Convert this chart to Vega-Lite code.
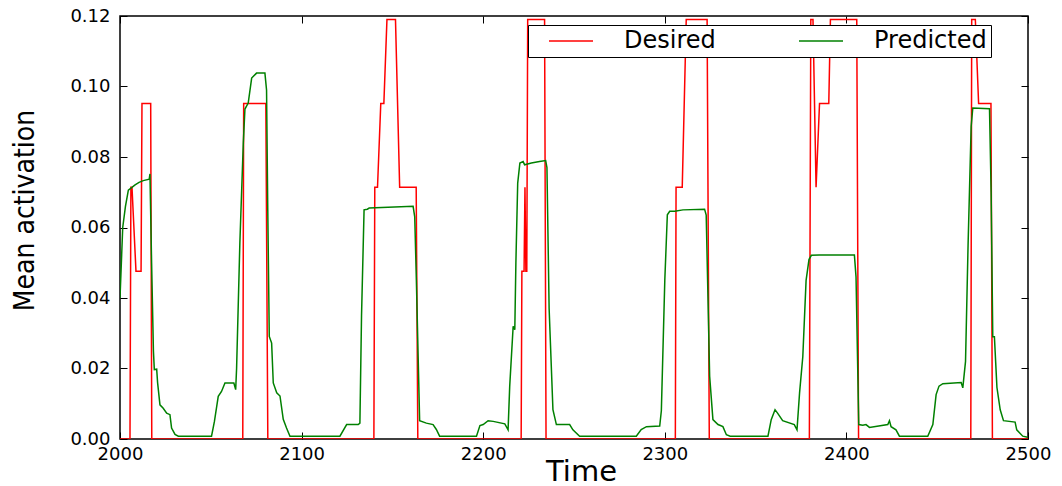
{
  "$schema": "https://vega.github.io/schema/vega-lite/v6.json",
  "width": 908,
  "height": 423,
  "autosize": {"type": "none"},
  "padding": {"left": 120, "top": 16, "right": 34, "bottom": 47},
  "background": "white",
  "config": {
    "view": {"stroke": "black", "strokeWidth": 1.5},
    "axis": {"domain": false, "grid": false, "labelFont": "DejaVu Sans", "labelFontSize": 18, "labelColor": "black", "tickColor": "black", "tickSize": -7, "tickWidth": 1, "titleColor": "black"}
  },
  "data": {"values": [
    {"t":2000,"v":0,"s":"Desired"},{"t":2005.5,"v":0,"s":"Desired"},{"t":2006,"v":0.0714,"s":"Desired"},{"t":2006.6,"v":0.0714,"s":"Desired"},{"t":2008.8,"v":0.0476,"s":"Desired"},{"t":2011.6,"v":0.0476,"s":"Desired"},{"t":2012.1,"v":0.0952,"s":"Desired"},{"t":2016.9,"v":0.0952,"s":"Desired"},{"t":2017.5,"v":0,"s":"Desired"},
    {"t":2067.6,"v":0,"s":"Desired"},{"t":2068.1,"v":0.0952,"s":"Desired"},{"t":2080.3,"v":0.0952,"s":"Desired"},{"t":2081.4,"v":0,"s":"Desired"},
    {"t":2139.8,"v":0,"s":"Desired"},{"t":2140.3,"v":0.0714,"s":"Desired"},{"t":2141.8,"v":0.0714,"s":"Desired"},{"t":2143.6,"v":0.0952,"s":"Desired"},{"t":2145.3,"v":0.0952,"s":"Desired"},{"t":2147,"v":0.119,"s":"Desired"},{"t":2151.7,"v":0.119,"s":"Desired"},{"t":2154,"v":0.0714,"s":"Desired"},{"t":2163.1,"v":0.0714,"s":"Desired"},{"t":2164,"v":0,"s":"Desired"},
    {"t":2220.9,"v":0,"s":"Desired"},{"t":2221.3,"v":0.0476,"s":"Desired"},{"t":2222.5,"v":0.0476,"s":"Desired"},{"t":2223,"v":0.0714,"s":"Desired"},{"t":2223.5,"v":0.0476,"s":"Desired"},{"t":2224,"v":0.0476,"s":"Desired"},{"t":2224.5,"v":0.119,"s":"Desired"},{"t":2233.8,"v":0.119,"s":"Desired"},{"t":2234.6,"v":0,"s":"Desired"},
    {"t":2305.8,"v":0,"s":"Desired"},{"t":2306.2,"v":0.0714,"s":"Desired"},{"t":2309.6,"v":0.0714,"s":"Desired"},{"t":2311.8,"v":0.119,"s":"Desired"},{"t":2323.3,"v":0.119,"s":"Desired"},{"t":2324.5,"v":0,"s":"Desired"},
    {"t":2379.6,"v":0,"s":"Desired"},{"t":2380.4,"v":0.119,"s":"Desired"},{"t":2381.6,"v":0.119,"s":"Desired"},{"t":2383.3,"v":0.0714,"s":"Desired"},{"t":2385.2,"v":0.0952,"s":"Desired"},{"t":2390.3,"v":0.0952,"s":"Desired"},{"t":2391.2,"v":0.119,"s":"Desired"},{"t":2405.7,"v":0.119,"s":"Desired"},{"t":2406.7,"v":0,"s":"Desired"},
    {"t":2468.5,"v":0,"s":"Desired"},{"t":2469,"v":0.119,"s":"Desired"},{"t":2471,"v":0.119,"s":"Desired"},{"t":2472.8,"v":0.0952,"s":"Desired"},{"t":2479.6,"v":0.0952,"s":"Desired"},{"t":2480.4,"v":0,"s":"Desired"},{"t":2500,"v":0,"s":"Desired"},

    {"t":2000,"v":0.040,"s":"Predicted"},{"t":2001.5,"v":0.060,"s":"Predicted"},{"t":2003,"v":0.066,"s":"Predicted"},{"t":2004.6,"v":0.0706,"s":"Predicted"},{"t":2006.4,"v":0.0713,"s":"Predicted"},{"t":2008.3,"v":0.0721,"s":"Predicted"},{"t":2010.5,"v":0.0728,"s":"Predicted"},{"t":2012.8,"v":0.0733,"s":"Predicted"},{"t":2016.1,"v":0.0737,"s":"Predicted"},{"t":2016.5,"v":0.0752,"s":"Predicted"},{"t":2017.4,"v":0.050,"s":"Predicted"},{"t":2018.4,"v":0.025,"s":"Predicted"},{"t":2018.9,"v":0.0197,"s":"Predicted"},{"t":2020.2,"v":0.0198,"s":"Predicted"},{"t":2020.7,"v":0.016,"s":"Predicted"},{"t":2022,"v":0.0097,"s":"Predicted"},{"t":2023.8,"v":0.0087,"s":"Predicted"},{"t":2025.7,"v":0.0073,"s":"Predicted"},{"t":2027.5,"v":0.0069,"s":"Predicted"},{"t":2028.4,"v":0.0031,"s":"Predicted"},{"t":2030.3,"v":0.0013,"s":"Predicted"},{"t":2032.1,"v":0.0008,"s":"Predicted"},
    {"t":2050.4,"v":0.0008,"s":"Predicted"},{"t":2052,"v":0.005,"s":"Predicted"},{"t":2054.1,"v":0.0121,"s":"Predicted"},{"t":2055.9,"v":0.0135,"s":"Predicted"},{"t":2057.8,"v":0.0159,"s":"Predicted"},{"t":2062.7,"v":0.0159,"s":"Predicted"},{"t":2063.7,"v":0.014,"s":"Predicted"},{"t":2064.2,"v":0.020,"s":"Predicted"},{"t":2066,"v":0.0556,"s":"Predicted"},{"t":2067.9,"v":0.084,"s":"Predicted"},{"t":2068.8,"v":0.0936,"s":"Predicted"},{"t":2070.6,"v":0.0953,"s":"Predicted"},{"t":2072.5,"v":0.1024,"s":"Predicted"},{"t":2075.2,"v":0.1038,"s":"Predicted"},{"t":2079.8,"v":0.1038,"s":"Predicted"},{"t":2080.7,"v":0.099,"s":"Predicted"},{"t":2081.3,"v":0.068,"s":"Predicted"},{"t":2082.2,"v":0.0291,"s":"Predicted"},{"t":2083.5,"v":0.0272,"s":"Predicted"},{"t":2084.4,"v":0.0159,"s":"Predicted"},{"t":2086.3,"v":0.0131,"s":"Predicted"},{"t":2088.1,"v":0.0122,"s":"Predicted"},{"t":2089.9,"v":0.0056,"s":"Predicted"},{"t":2091.7,"v":0.0031,"s":"Predicted"},{"t":2093.6,"v":0.0008,"s":"Predicted"},
    {"t":2121.1,"v":0.0008,"s":"Predicted"},{"t":2124.8,"v":0.0041,"s":"Predicted"},{"t":2131.2,"v":0.0041,"s":"Predicted"},{"t":2132.1,"v":0.0045,"s":"Predicted"},{"t":2133,"v":0.035,"s":"Predicted"},{"t":2134.4,"v":0.065,"s":"Predicted"},{"t":2136.2,"v":0.0652,"s":"Predicted"},{"t":2137.2,"v":0.0655,"s":"Predicted"},{"t":2161.4,"v":0.066,"s":"Predicted"},{"t":2162.3,"v":0.063,"s":"Predicted"},{"t":2163.2,"v":0.045,"s":"Predicted"},{"t":2165,"v":0.0052,"s":"Predicted"},{"t":2168.7,"v":0.0045,"s":"Predicted"},{"t":2172.4,"v":0.0041,"s":"Predicted"},{"t":2174.2,"v":0.0027,"s":"Predicted"},{"t":2176,"v":0.0008,"s":"Predicted"},
    {"t":2196.3,"v":0.0008,"s":"Predicted"},{"t":2198.2,"v":0.0038,"s":"Predicted"},{"t":2200,"v":0.0041,"s":"Predicted"},{"t":2202.7,"v":0.0052,"s":"Predicted"},{"t":2205.5,"v":0.005,"s":"Predicted"},{"t":2211.9,"v":0.0043,"s":"Predicted"},{"t":2213.7,"v":0.0026,"s":"Predicted"},{"t":2214.6,"v":0.015,"s":"Predicted"},{"t":2216.5,"v":0.032,"s":"Predicted"},{"t":2217.4,"v":0.031,"s":"Predicted"},{"t":2218,"v":0.05,"s":"Predicted"},{"t":2219,"v":0.0726,"s":"Predicted"},{"t":2220.2,"v":0.0783,"s":"Predicted"},{"t":2222,"v":0.0787,"s":"Predicted"},{"t":2222.8,"v":0.0778,"s":"Predicted"},{"t":2226.5,"v":0.0783,"s":"Predicted"},{"t":2231,"v":0.0787,"s":"Predicted"},{"t":2234.4,"v":0.079,"s":"Predicted"},{"t":2235.1,"v":0.077,"s":"Predicted"},{"t":2236.3,"v":0.037,"s":"Predicted"},{"t":2238.4,"v":0.0083,"s":"Predicted"},{"t":2240.3,"v":0.0041,"s":"Predicted"},{"t":2247.6,"v":0.0041,"s":"Predicted"},{"t":2249.4,"v":0.0026,"s":"Predicted"},{"t":2253.1,"v":0.0008,"s":"Predicted"},
    {"t":2284.3,"v":0.0008,"s":"Predicted"},{"t":2287,"v":0.0027,"s":"Predicted"},{"t":2289.9,"v":0.0035,"s":"Predicted"},{"t":2297.2,"v":0.0037,"s":"Predicted"},{"t":2298.1,"v":0.008,"s":"Predicted"},{"t":2300,"v":0.045,"s":"Predicted"},{"t":2301.4,"v":0.0636,"s":"Predicted"},{"t":2302.7,"v":0.0646,"s":"Predicted"},{"t":2305.5,"v":0.0646,"s":"Predicted"},{"t":2310,"v":0.065,"s":"Predicted"},{"t":2321.9,"v":0.0652,"s":"Predicted"},{"t":2322.8,"v":0.0635,"s":"Predicted"},{"t":2324.7,"v":0.0178,"s":"Predicted"},{"t":2326.5,"v":0.0055,"s":"Predicted"},{"t":2329.3,"v":0.0041,"s":"Predicted"},{"t":2332,"v":0.0035,"s":"Predicted"},{"t":2333.9,"v":0.0012,"s":"Predicted"},{"t":2336,"v":0.0008,"s":"Predicted"},
    {"t":2356.8,"v":0.0008,"s":"Predicted"},{"t":2358.6,"v":0.0055,"s":"Predicted"},{"t":2360.7,"v":0.0083,"s":"Predicted"},{"t":2362,"v":0.0074,"s":"Predicted"},{"t":2364.9,"v":0.0052,"s":"Predicted"},{"t":2371.3,"v":0.0041,"s":"Predicted"},{"t":2372.8,"v":0.0026,"s":"Predicted"},{"t":2374.2,"v":0.013,"s":"Predicted"},{"t":2376,"v":0.0234,"s":"Predicted"},{"t":2377.8,"v":0.045,"s":"Predicted"},{"t":2379.4,"v":0.0509,"s":"Predicted"},{"t":2380.7,"v":0.0521,"s":"Predicted"},{"t":2385,"v":0.0522,"s":"Predicted"},{"t":2404.4,"v":0.0522,"s":"Predicted"},{"t":2405.3,"v":0.046,"s":"Predicted"},{"t":2406.8,"v":0.0041,"s":"Predicted"},{"t":2409,"v":0.0039,"s":"Predicted"},{"t":2410.8,"v":0.0041,"s":"Predicted"},{"t":2412.7,"v":0.0033,"s":"Predicted"},{"t":2422.8,"v":0.0041,"s":"Predicted"},{"t":2423.7,"v":0.0052,"s":"Predicted"},{"t":2424.6,"v":0.0035,"s":"Predicted"},{"t":2427.3,"v":0.0026,"s":"Predicted"},{"t":2429.2,"v":0.0008,"s":"Predicted"},
    {"t":2444.8,"v":0.0008,"s":"Predicted"},{"t":2447.6,"v":0.0041,"s":"Predicted"},{"t":2449.4,"v":0.0126,"s":"Predicted"},{"t":2451,"v":0.015,"s":"Predicted"},{"t":2453.1,"v":0.0157,"s":"Predicted"},{"t":2463.2,"v":0.016,"s":"Predicted"},{"t":2464.1,"v":0.0145,"s":"Predicted"},{"t":2465.6,"v":0.022,"s":"Predicted"},{"t":2467,"v":0.055,"s":"Predicted"},{"t":2468.7,"v":0.0887,"s":"Predicted"},{"t":2469.6,"v":0.0939,"s":"Predicted"},{"t":2478.8,"v":0.0937,"s":"Predicted"},{"t":2479.7,"v":0.07,"s":"Predicted"},{"t":2480.6,"v":0.029,"s":"Predicted"},{"t":2481.5,"v":0.029,"s":"Predicted"},{"t":2482.9,"v":0.0146,"s":"Predicted"},{"t":2484.7,"v":0.0083,"s":"Predicted"},{"t":2486.5,"v":0.0052,"s":"Predicted"},{"t":2492.9,"v":0.0048,"s":"Predicted"},{"t":2493.8,"v":0.0026,"s":"Predicted"},{"t":2497.1,"v":0.0008,"s":"Predicted"},{"t":2499.8,"v":0.0005,"s":"Predicted"}
  ]},
  "layer": [
    {
      "mark": {"type": "line", "strokeWidth": 1.5, "clip": true},
      "encoding": {
        "x": {"field": "t", "type": "quantitative", "scale": {"domain": [2000, 2500], "nice": false, "zero": false},
              "axis": {"orient": "bottom", "values": [2000, 2100, 2200, 2300, 2400, 2500], "format": "d", "labelPadding": 13, "labelFlush": false, "title": "Time", "titleFont": "DejaVu Sans", "titleFontSize": 29, "titleFontWeight": "normal", "titleX": 461, "titleY": 41, "titleAlign": "center", "titleBaseline": "alphabetic"}},
        "y": {"field": "v", "type": "quantitative", "scale": {"domain": [0, 0.12], "nice": false},
              "axis": {"orient": "left", "values": [0, 0.02, 0.04, 0.06, 0.08, 0.1, 0.12], "format": ".2f", "labelPadding": 17, "labelFlush": false, "title": "Mean activation", "titleFont": "DejaVu Sans Condensed, Liberation Sans Narrow, DejaVu Sans", "titleFontSize": 28, "titleFontWeight": "normal", "titleX": -95, "titleY": 194, "titleAngle": 270, "titleAlign": "center", "titleBaseline": "middle"}},
        "color": {"field": "s", "type": "nominal", "scale": {"domain": ["Desired", "Predicted"], "range": ["#ff0000", "#008000"]},
                  "legend": {"title": null, "orient": "none", "legendX": 408, "legendY": 9, "direction": "horizontal", "strokeColor": "black", "fillColor": "white", "padding": 4, "symbolType": "M-2,0H2", "symbolSize": 484, "symbolStrokeWidth": 1.5, "symbolOffset": 27, "labelFont": "DejaVu Sans", "labelFontSize": 24, "labelColor": "black", "labelOffset": 41, "columnPadding": 66}}
      }
    },
    {
      "mark": {"type": "line", "opacity": 0},
      "encoding": {
        "x": {"field": "t", "type": "quantitative", "axis": {"orient": "top", "values": [2000, 2100, 2200, 2300, 2400, 2500], "labels": false, "title": null}},
        "y": {"field": "v", "type": "quantitative", "axis": {"orient": "right", "values": [0, 0.02, 0.04, 0.06, 0.08, 0.1, 0.12], "labels": false, "title": null}},
        "detail": {"field": "s", "type": "nominal"}
      }
    }
  ],
  "resolve": {"axis": {"x": "independent", "y": "independent"}}
}
